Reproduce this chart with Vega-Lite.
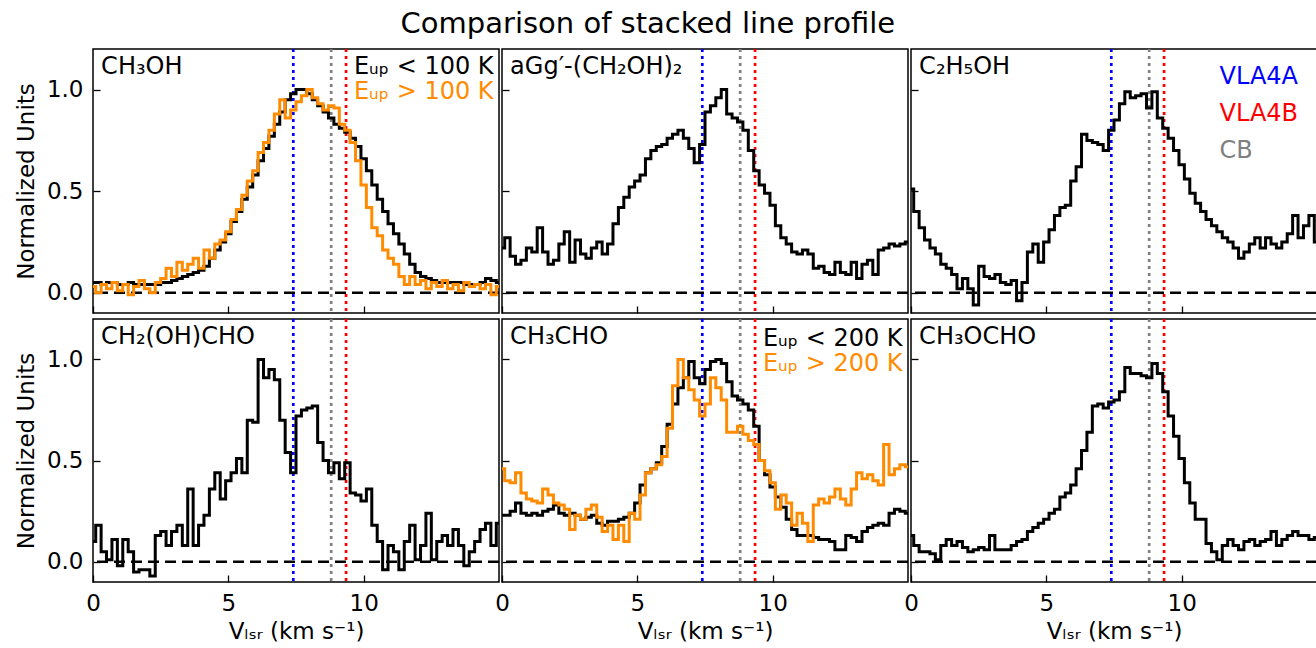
{
"$schema":"https://vega.github.io/schema/vega-lite/v6.json",
"padding":{"left":14,"top":9,"right":0,"bottom":0},
"spacing":0,
"config":{"font":"DejaVu Sans","view":{"stroke":"black","strokeWidth":1.5},
"axis":{"grid":false,"domain":false,"tickColor":"black","tickSize":-7,"tickWidth":1.3,"labelPadding":17,"labelFontSize":23,"labelColor":"black","labelFont":"DejaVu Sans","titleFont":"DejaVu Sans","titleFontSize":23,"titleFontWeight":"normal","titleColor":"black","titlePadding":8,"labelFlush":false},
"axisBottom":{"titleFontSize":23,"titlePadding":5},
"scale":{"nice":false},
"concat":{"spacing":3},"text":{"font":"DejaVu Sans"}},
"title":{"text":"Comparison of stacked line profile","fontSize":29,"fontWeight":"normal","font":"DejaVu Sans","color":"black","anchor":"middle","offset":8,"dx":-19},
"datasets":{
"vlines":[{"x":7.4,"c":"VLA4A"},{"x":8.8,"c":"CB"},{"x":9.35,"c":"VLA4B"}],
"s1":[{"x":0,"y":0.05},{"x":0.2,"y":0.05},{"x":0.4,"y":0.04},{"x":0.6,"y":0.05},{"x":0.8,"y":0.05},{"x":1,"y":0.04},{"x":1.2,"y":0.04},{"x":1.4,"y":0.05},{"x":1.6,"y":0.04},{"x":1.8,"y":0.04},{"x":2,"y":0.04},{"x":2.2,"y":0.04},{"x":2.4,"y":0.04},{"x":2.6,"y":0.05},{"x":2.8,"y":0.05},{"x":3,"y":0.06},{"x":3.2,"y":0.07},{"x":3.4,"y":0.08},{"x":3.6,"y":0.09},{"x":3.8,"y":0.1},{"x":4,"y":0.11},{"x":4.2,"y":0.13},{"x":4.4,"y":0.17},{"x":4.6,"y":0.21},{"x":4.8,"y":0.25},{"x":5,"y":0.29},{"x":5.2,"y":0.35},{"x":5.4,"y":0.4},{"x":5.6,"y":0.46},{"x":5.8,"y":0.52},{"x":6,"y":0.58},{"x":6.2,"y":0.65},{"x":6.4,"y":0.71},{"x":6.6,"y":0.77},{"x":6.8,"y":0.83},{"x":7,"y":0.89},{"x":7.2,"y":0.95},{"x":7.4,"y":0.98},{"x":7.6,"y":1},{"x":7.8,"y":1},{"x":8,"y":0.98},{"x":8.2,"y":0.95},{"x":8.4,"y":0.92},{"x":8.6,"y":0.89},{"x":8.8,"y":0.86},{"x":9,"y":0.83},{"x":9.2,"y":0.81},{"x":9.4,"y":0.79},{"x":9.6,"y":0.76},{"x":9.8,"y":0.72},{"x":10,"y":0.66},{"x":10.2,"y":0.6},{"x":10.4,"y":0.53},{"x":10.6,"y":0.46},{"x":10.8,"y":0.4},{"x":11,"y":0.34},{"x":11.2,"y":0.29},{"x":11.4,"y":0.24},{"x":11.6,"y":0.19},{"x":11.8,"y":0.14},{"x":12,"y":0.1},{"x":12.2,"y":0.08},{"x":12.4,"y":0.07},{"x":12.6,"y":0.06},{"x":12.8,"y":0.05},{"x":13,"y":0.05},{"x":13.2,"y":0.05},{"x":13.4,"y":0.05},{"x":13.6,"y":0.05},{"x":13.8,"y":0.04},{"x":14,"y":0.04},{"x":14.2,"y":0.04},{"x":14.4,"y":0.05},{"x":14.6,"y":0.07},{"x":14.8,"y":0.06},{"x":15,"y":0.05}],
"s2":[{"x":0,"y":0.03},{"x":0.2,"y":0},{"x":0.4,"y":0.04},{"x":0.6,"y":0.02},{"x":0.8,"y":0.05},{"x":1,"y":0.01},{"x":1.2,"y":0.04},{"x":1.4,"y":-0.01},{"x":1.6,"y":0.03},{"x":1.8,"y":0.06},{"x":2,"y":0.02},{"x":2.2,"y":0},{"x":2.4,"y":0.05},{"x":2.6,"y":0.07},{"x":2.8,"y":0.12},{"x":3,"y":0.08},{"x":3.2,"y":0.15},{"x":3.4,"y":0.11},{"x":3.6,"y":0.14},{"x":3.8,"y":0.17},{"x":4,"y":0.12},{"x":4.2,"y":0.21},{"x":4.4,"y":0.17},{"x":4.6,"y":0.24},{"x":4.8,"y":0.26},{"x":5,"y":0.3},{"x":5.2,"y":0.36},{"x":5.4,"y":0.41},{"x":5.6,"y":0.48},{"x":5.8,"y":0.55},{"x":6,"y":0.6},{"x":6.2,"y":0.69},{"x":6.4,"y":0.74},{"x":6.6,"y":0.8},{"x":6.8,"y":0.88},{"x":7,"y":0.95},{"x":7.2,"y":0.86},{"x":7.4,"y":0.9},{"x":7.6,"y":0.94},{"x":7.8,"y":0.97},{"x":8,"y":1},{"x":8.2,"y":0.96},{"x":8.4,"y":0.93},{"x":8.6,"y":0.9},{"x":8.8,"y":0.92},{"x":9,"y":0.91},{"x":9.2,"y":0.83},{"x":9.4,"y":0.8},{"x":9.6,"y":0.74},{"x":9.8,"y":0.65},{"x":10,"y":0.53},{"x":10.2,"y":0.42},{"x":10.4,"y":0.32},{"x":10.6,"y":0.28},{"x":10.8,"y":0.21},{"x":11,"y":0.17},{"x":11.2,"y":0.14},{"x":11.4,"y":0.08},{"x":11.6,"y":0.04},{"x":11.8,"y":0.08},{"x":12,"y":0.04},{"x":12.2,"y":0.06},{"x":12.4,"y":0.02},{"x":12.6,"y":0.05},{"x":12.8,"y":0.03},{"x":13,"y":0.06},{"x":13.2,"y":0.02},{"x":13.4,"y":0.04},{"x":13.6,"y":0.01},{"x":13.8,"y":0.05},{"x":14,"y":0.03},{"x":14.2,"y":0.04},{"x":14.4,"y":0.02},{"x":14.6,"y":0.04},{"x":14.8,"y":-0.01},{"x":15,"y":0.03}],
"s3":[{"x":0,"y":0.22},{"x":0.2,"y":0.27},{"x":0.4,"y":0.18},{"x":0.6,"y":0.14},{"x":0.8,"y":0.16},{"x":1,"y":0.22},{"x":1.2,"y":0.2},{"x":1.4,"y":0.32},{"x":1.6,"y":0.2},{"x":1.8,"y":0.14},{"x":2,"y":0.16},{"x":2.2,"y":0.24},{"x":2.4,"y":0.3},{"x":2.6,"y":0.15},{"x":2.8,"y":0.26},{"x":3,"y":0.19},{"x":3.2,"y":0.17},{"x":3.4,"y":0.22},{"x":3.6,"y":0.25},{"x":3.8,"y":0.19},{"x":4,"y":0.24},{"x":4.2,"y":0.34},{"x":4.4,"y":0.42},{"x":4.6,"y":0.47},{"x":4.8,"y":0.52},{"x":5,"y":0.55},{"x":5.2,"y":0.58},{"x":5.4,"y":0.66},{"x":5.6,"y":0.7},{"x":5.8,"y":0.72},{"x":6,"y":0.73},{"x":6.2,"y":0.76},{"x":6.4,"y":0.78},{"x":6.6,"y":0.8},{"x":6.8,"y":0.76},{"x":7,"y":0.71},{"x":7.2,"y":0.64},{"x":7.4,"y":0.73},{"x":7.6,"y":0.89},{"x":7.8,"y":0.92},{"x":8,"y":0.96},{"x":8.2,"y":1},{"x":8.4,"y":0.88},{"x":8.6,"y":0.86},{"x":8.8,"y":0.84},{"x":9,"y":0.8},{"x":9.2,"y":0.7},{"x":9.4,"y":0.6},{"x":9.6,"y":0.53},{"x":9.8,"y":0.49},{"x":10,"y":0.43},{"x":10.2,"y":0.33},{"x":10.4,"y":0.27},{"x":10.6,"y":0.24},{"x":10.8,"y":0.2},{"x":11,"y":0.19},{"x":11.2,"y":0.21},{"x":11.4,"y":0.19},{"x":11.6,"y":0.12},{"x":11.8,"y":0.13},{"x":12,"y":0.1},{"x":12.2,"y":0.09},{"x":12.4,"y":0.15},{"x":12.6,"y":0.1},{"x":12.8,"y":0.09},{"x":13,"y":0.15},{"x":13.2,"y":0.07},{"x":13.4,"y":0.14},{"x":13.6,"y":0.16},{"x":13.8,"y":0.09},{"x":14,"y":0.21},{"x":14.2,"y":0.22},{"x":14.4,"y":0.24},{"x":14.6,"y":0.23},{"x":14.8,"y":0.24},{"x":15,"y":0.25}],
"s4":[{"x":0,"y":0.51},{"x":0.2,"y":0.4},{"x":0.4,"y":0.32},{"x":0.6,"y":0.26},{"x":0.8,"y":0.22},{"x":1,"y":0.19},{"x":1.2,"y":0.14},{"x":1.4,"y":0.12},{"x":1.6,"y":0.09},{"x":1.8,"y":0.02},{"x":2,"y":0.07},{"x":2.2,"y":0.02},{"x":2.4,"y":-0.06},{"x":2.6,"y":0.13},{"x":2.8,"y":0.08},{"x":3,"y":0.07},{"x":3.2,"y":0.09},{"x":3.4,"y":0.05},{"x":3.6,"y":0.04},{"x":3.8,"y":0.06},{"x":4,"y":-0.04},{"x":4.2,"y":0.05},{"x":4.4,"y":0.2},{"x":4.6,"y":0.24},{"x":4.8,"y":0.15},{"x":5,"y":0.25},{"x":5.2,"y":0.31},{"x":5.4,"y":0.38},{"x":5.6,"y":0.42},{"x":5.8,"y":0.43},{"x":6,"y":0.55},{"x":6.2,"y":0.62},{"x":6.4,"y":0.78},{"x":6.6,"y":0.75},{"x":6.8,"y":0.74},{"x":7,"y":0.73},{"x":7.2,"y":0.7},{"x":7.4,"y":0.8},{"x":7.6,"y":0.85},{"x":7.8,"y":0.93},{"x":8,"y":0.99},{"x":8.2,"y":0.96},{"x":8.4,"y":0.97},{"x":8.6,"y":0.98},{"x":8.8,"y":0.91},{"x":9,"y":0.99},{"x":9.2,"y":0.86},{"x":9.4,"y":0.81},{"x":9.6,"y":0.76},{"x":9.8,"y":0.7},{"x":10,"y":0.63},{"x":10.2,"y":0.56},{"x":10.4,"y":0.49},{"x":10.6,"y":0.44},{"x":10.8,"y":0.4},{"x":11,"y":0.36},{"x":11.2,"y":0.33},{"x":11.4,"y":0.3},{"x":11.6,"y":0.27},{"x":11.8,"y":0.25},{"x":12,"y":0.22},{"x":12.2,"y":0.17},{"x":12.4,"y":0.2},{"x":12.6,"y":0.24},{"x":12.8,"y":0.27},{"x":13,"y":0.22},{"x":13.2,"y":0.27},{"x":13.4,"y":0.24},{"x":13.6,"y":0.22},{"x":13.8,"y":0.25},{"x":14,"y":0.29},{"x":14.2,"y":0.38},{"x":14.4,"y":0.27},{"x":14.6,"y":0.33},{"x":14.8,"y":0.38},{"x":15,"y":0.25}],
"s5":[{"x":0,"y":0.1},{"x":0.2,"y":0.18},{"x":0.4,"y":0.05},{"x":0.6,"y":0.01},{"x":0.8,"y":0.11},{"x":1,"y":-0.02},{"x":1.2,"y":0.11},{"x":1.4,"y":0.05},{"x":1.6,"y":-0.05},{"x":1.8,"y":-0.04},{"x":2,"y":-0.04},{"x":2.2,"y":-0.07},{"x":2.4,"y":0.13},{"x":2.6,"y":0.15},{"x":2.8,"y":0.08},{"x":3,"y":0.15},{"x":3.2,"y":0.18},{"x":3.4,"y":0.08},{"x":3.6,"y":0.36},{"x":3.8,"y":0.08},{"x":4,"y":0.18},{"x":4.2,"y":0.23},{"x":4.4,"y":0.36},{"x":4.6,"y":0.44},{"x":4.8,"y":0.31},{"x":5,"y":0.4},{"x":5.2,"y":0.44},{"x":5.4,"y":0.51},{"x":5.6,"y":0.44},{"x":5.8,"y":0.7},{"x":6,"y":0.69},{"x":6.2,"y":1},{"x":6.4,"y":0.91},{"x":6.6,"y":0.95},{"x":6.8,"y":0.9},{"x":7,"y":0.7},{"x":7.2,"y":0.54},{"x":7.4,"y":0.44},{"x":7.6,"y":0.72},{"x":7.8,"y":0.75},{"x":8,"y":0.76},{"x":8.2,"y":0.77},{"x":8.4,"y":0.59},{"x":8.6,"y":0.5},{"x":8.8,"y":0.44},{"x":9,"y":0.49},{"x":9.2,"y":0.41},{"x":9.4,"y":0.49},{"x":9.6,"y":0.34},{"x":9.8,"y":0.33},{"x":10,"y":0.3},{"x":10.2,"y":0.36},{"x":10.4,"y":0.18},{"x":10.6,"y":0.1},{"x":10.8,"y":-0.04},{"x":11,"y":0.08},{"x":11.2,"y":0.05},{"x":11.4,"y":-0.04},{"x":11.6,"y":0.1},{"x":11.8,"y":0.18},{"x":12,"y":0.01},{"x":12.2,"y":0.08},{"x":12.4,"y":0.24},{"x":12.6,"y":0.01},{"x":12.8,"y":0.1},{"x":13,"y":0.13},{"x":13.2,"y":0.08},{"x":13.4,"y":0.16},{"x":13.6,"y":0.08},{"x":13.8,"y":-0.02},{"x":14,"y":0.05},{"x":14.2,"y":0.1},{"x":14.4,"y":0.16},{"x":14.6,"y":0.19},{"x":14.8,"y":0.08},{"x":15,"y":0.19}],
"s6":[{"x":0,"y":0.23},{"x":0.2,"y":0.23},{"x":0.4,"y":0.25},{"x":0.6,"y":0.29},{"x":0.8,"y":0.24},{"x":1,"y":0.23},{"x":1.2,"y":0.24},{"x":1.4,"y":0.23},{"x":1.6,"y":0.25},{"x":1.8,"y":0.26},{"x":2,"y":0.28},{"x":2.2,"y":0.24},{"x":2.4,"y":0.23},{"x":2.6,"y":0.24},{"x":2.8,"y":0.23},{"x":3,"y":0.21},{"x":3.2,"y":0.22},{"x":3.4,"y":0.23},{"x":3.6,"y":0.19},{"x":3.8,"y":0.18},{"x":4,"y":0.2},{"x":4.2,"y":0.2},{"x":4.4,"y":0.21},{"x":4.6,"y":0.22},{"x":4.8,"y":0.24},{"x":5,"y":0.29},{"x":5.2,"y":0.38},{"x":5.4,"y":0.44},{"x":5.6,"y":0.46},{"x":5.8,"y":0.49},{"x":6,"y":0.57},{"x":6.2,"y":0.68},{"x":6.4,"y":0.78},{"x":6.6,"y":0.86},{"x":6.8,"y":0.91},{"x":7,"y":0.99},{"x":7.2,"y":0.91},{"x":7.4,"y":0.88},{"x":7.6,"y":0.95},{"x":7.8,"y":0.99},{"x":8,"y":1},{"x":8.2,"y":0.98},{"x":8.4,"y":0.89},{"x":8.6,"y":0.82},{"x":8.8,"y":0.8},{"x":9,"y":0.78},{"x":9.2,"y":0.75},{"x":9.4,"y":0.67},{"x":9.6,"y":0.5},{"x":9.8,"y":0.43},{"x":10,"y":0.37},{"x":10.2,"y":0.32},{"x":10.4,"y":0.27},{"x":10.6,"y":0.21},{"x":10.8,"y":0.16},{"x":11,"y":0.13},{"x":11.2,"y":0.13},{"x":11.4,"y":0.13},{"x":11.6,"y":0.12},{"x":11.8,"y":0.11},{"x":12,"y":0.11},{"x":12.2,"y":0.1},{"x":12.4,"y":0.06},{"x":12.6,"y":0.06},{"x":12.8,"y":0.13},{"x":13,"y":0.12},{"x":13.2,"y":0.1},{"x":13.4,"y":0.15},{"x":13.6,"y":0.17},{"x":13.8,"y":0.18},{"x":14,"y":0.19},{"x":14.2,"y":0.18},{"x":14.4,"y":0.24},{"x":14.6,"y":0.26},{"x":14.8,"y":0.25},{"x":15,"y":0.24}],
"s7":[{"x":0,"y":0.46},{"x":0.2,"y":0.4},{"x":0.4,"y":0.39},{"x":0.6,"y":0.44},{"x":0.8,"y":0.34},{"x":1,"y":0.31},{"x":1.2,"y":0.3},{"x":1.4,"y":0.29},{"x":1.6,"y":0.36},{"x":1.8,"y":0.33},{"x":2,"y":0.29},{"x":2.2,"y":0.28},{"x":2.4,"y":0.26},{"x":2.6,"y":0.16},{"x":2.8,"y":0.23},{"x":3,"y":0.21},{"x":3.2,"y":0.26},{"x":3.4,"y":0.28},{"x":3.6,"y":0.22},{"x":3.8,"y":0.15},{"x":4,"y":0.18},{"x":4.2,"y":0.11},{"x":4.4,"y":0.18},{"x":4.6,"y":0.1},{"x":4.8,"y":0.24},{"x":5,"y":0.21},{"x":5.2,"y":0.33},{"x":5.4,"y":0.44},{"x":5.6,"y":0.46},{"x":5.8,"y":0.48},{"x":6,"y":0.52},{"x":6.2,"y":0.66},{"x":6.4,"y":0.87},{"x":6.6,"y":1},{"x":6.8,"y":0.91},{"x":7,"y":0.85},{"x":7.2,"y":0.8},{"x":7.4,"y":0.72},{"x":7.6,"y":0.78},{"x":7.8,"y":0.91},{"x":8,"y":0.86},{"x":8.2,"y":0.8},{"x":8.4,"y":0.64},{"x":8.6,"y":0.64},{"x":8.8,"y":0.67},{"x":9,"y":0.63},{"x":9.2,"y":0.6},{"x":9.4,"y":0.58},{"x":9.6,"y":0.5},{"x":9.8,"y":0.45},{"x":10,"y":0.39},{"x":10.2,"y":0.26},{"x":10.4,"y":0.33},{"x":10.6,"y":0.29},{"x":10.8,"y":0.18},{"x":11,"y":0.24},{"x":11.2,"y":0.19},{"x":11.4,"y":0.1},{"x":11.6,"y":0.28},{"x":11.8,"y":0.31},{"x":12,"y":0.29},{"x":12.2,"y":0.32},{"x":12.4,"y":0.36},{"x":12.6,"y":0.31},{"x":12.8,"y":0.28},{"x":13,"y":0.36},{"x":13.2,"y":0.44},{"x":13.4,"y":0.41},{"x":13.6,"y":0.43},{"x":13.8,"y":0.4},{"x":14,"y":0.38},{"x":14.2,"y":0.58},{"x":14.4,"y":0.43},{"x":14.6,"y":0.46},{"x":14.8,"y":0.48},{"x":15,"y":0.47}],
"s8":[{"x":0,"y":0.13},{"x":0.2,"y":0.08},{"x":0.4,"y":0.05},{"x":0.6,"y":0.05},{"x":0.8,"y":0.04},{"x":1,"y":0.01},{"x":1.2,"y":0.08},{"x":1.4,"y":0.11},{"x":1.6,"y":0.08},{"x":1.8,"y":0.1},{"x":2,"y":0.07},{"x":2.2,"y":0.05},{"x":2.4,"y":0.06},{"x":2.6,"y":0.07},{"x":2.8,"y":0.06},{"x":3,"y":0.13},{"x":3.2,"y":0.06},{"x":3.4,"y":0.06},{"x":3.6,"y":0.06},{"x":3.8,"y":0.08},{"x":4,"y":0.1},{"x":4.2,"y":0.11},{"x":4.4,"y":0.15},{"x":4.6,"y":0.17},{"x":4.8,"y":0.19},{"x":5,"y":0.21},{"x":5.2,"y":0.24},{"x":5.4,"y":0.26},{"x":5.6,"y":0.32},{"x":5.8,"y":0.34},{"x":6,"y":0.38},{"x":6.2,"y":0.46},{"x":6.4,"y":0.55},{"x":6.6,"y":0.64},{"x":6.8,"y":0.77},{"x":7,"y":0.78},{"x":7.2,"y":0.76},{"x":7.4,"y":0.79},{"x":7.6,"y":0.8},{"x":7.8,"y":0.84},{"x":8,"y":0.96},{"x":8.2,"y":0.93},{"x":8.4,"y":0.93},{"x":8.6,"y":0.92},{"x":8.8,"y":0.91},{"x":9,"y":0.98},{"x":9.2,"y":0.93},{"x":9.4,"y":0.84},{"x":9.6,"y":0.72},{"x":9.8,"y":0.62},{"x":10,"y":0.51},{"x":10.2,"y":0.39},{"x":10.4,"y":0.29},{"x":10.6,"y":0.21},{"x":10.8,"y":0.21},{"x":11,"y":0.09},{"x":11.2,"y":0.05},{"x":11.4,"y":0.01},{"x":11.6,"y":0.08},{"x":11.8,"y":0.11},{"x":12,"y":0.08},{"x":12.2,"y":0.06},{"x":12.4,"y":0.1},{"x":12.6,"y":0.11},{"x":12.8,"y":0.08},{"x":13,"y":0.1},{"x":13.2,"y":0.11},{"x":13.4,"y":0.15},{"x":13.6,"y":0.08},{"x":13.8,"y":0.11},{"x":14,"y":0.13},{"x":14.2,"y":0.15},{"x":14.4,"y":0.13},{"x":14.6,"y":0.13},{"x":14.8,"y":0.11},{"x":15,"y":0.12}]
},
"vconcat":[
{"hconcat":[
{"width":406,"height":264,"layer":[
{"data":{"name":"vlines"},"mark":{"type":"rule","strokeDash":[3,4],"strokeWidth":2.7},"encoding":{"x":{"field":"x","type":"quantitative","scale":{"domain":[0,15],"nice":false},"axis":{"values":[0,5,10],"labels":false,"title":null}},"color":{"field":"c","type":"nominal","scale":{"domain":["VLA4A","CB","VLA4B"],"range":["#0000ff","#808080","#ff0000"]},"legend":null}}},
{"data":{"values":[{}]},"mark":{"type":"rule","strokeDash":[11,6],"strokeWidth":2.5,"color":"black"},"encoding":{"y":{"datum":0,"type":"quantitative","scale":{"domain":[-0.1,1.2],"nice":false},"axis":{"values":[0,0.5,1],"format":".1f","title":"Normalized Units"}}}},
{"data":{"name":"s1"},"mark":{"type":"line","interpolate":"step","strokeWidth":3,"color":"black","clip":true},"encoding":{"x":{"field":"x","type":"quantitative"},"y":{"field":"y","type":"quantitative"}}},
{"data":{"name":"s2"},"mark":{"type":"line","interpolate":"step","strokeWidth":3,"color":"#ff8c00","clip":true},"encoding":{"x":{"field":"x","type":"quantitative"},"y":{"field":"y","type":"quantitative"}}},
{"data":{"values":[{}]},"mark":{"type":"text","text":"CH₃OH","align":"left","baseline":"middle","fontSize":24,"color":"black"},"encoding":{"x":{"datum":0.3,"type":"quantitative"},"y":{"datum":1.11,"type":"quantitative"}}},
{"data":{"values":[{}]},"mark":{"type":"text","text":"Eᵤₚ < 100 K","align":"right","baseline":"middle","fontSize":24,"color":"black"},"encoding":{"x":{"datum":14.8,"type":"quantitative"},"y":{"datum":1.11,"type":"quantitative"}}},
{"data":{"values":[{}]},"mark":{"type":"text","text":"Eᵤₚ > 100 K","align":"right","baseline":"middle","fontSize":24,"color":"#ff8c00"},"encoding":{"x":{"datum":14.8,"type":"quantitative"},"y":{"datum":0.987,"type":"quantitative"}}}
]},
{"width":406,"height":264,"layer":[
{"data":{"name":"vlines"},"mark":{"type":"rule","strokeDash":[3,4],"strokeWidth":2.7},"encoding":{"x":{"field":"x","type":"quantitative","scale":{"domain":[0,15],"nice":false},"axis":{"values":[0,5,10],"labels":false,"title":null}},"color":{"field":"c","type":"nominal","scale":{"domain":["VLA4A","CB","VLA4B"],"range":["#0000ff","#808080","#ff0000"]},"legend":null}}},
{"data":{"values":[{}]},"mark":{"type":"rule","strokeDash":[11,6],"strokeWidth":2.5,"color":"black"},"encoding":{"y":{"datum":0,"type":"quantitative","scale":{"domain":[-0.1,1.2],"nice":false},"axis":{"values":[0,0.5,1],"labels":false,"title":null}}}},
{"data":{"name":"s3"},"mark":{"type":"line","interpolate":"step","strokeWidth":3,"color":"black","clip":true},"encoding":{"x":{"field":"x","type":"quantitative"},"y":{"field":"y","type":"quantitative"}}},
{"data":{"values":[{}]},"mark":{"type":"text","text":"aGg′-(CH₂OH)₂","align":"left","baseline":"middle","fontSize":24,"color":"black"},"encoding":{"x":{"datum":0.3,"type":"quantitative"},"y":{"datum":1.11,"type":"quantitative"}}}
]},
{"width":406,"height":264,"layer":[
{"data":{"name":"vlines"},"mark":{"type":"rule","strokeDash":[3,4],"strokeWidth":2.7},"encoding":{"x":{"field":"x","type":"quantitative","scale":{"domain":[0,15],"nice":false},"axis":{"values":[0,5,10],"labels":false,"title":null}},"color":{"field":"c","type":"nominal","scale":{"domain":["VLA4A","CB","VLA4B"],"range":["#0000ff","#808080","#ff0000"]},"legend":null}}},
{"data":{"values":[{}]},"mark":{"type":"rule","strokeDash":[11,6],"strokeWidth":2.5,"color":"black"},"encoding":{"y":{"datum":0,"type":"quantitative","scale":{"domain":[-0.1,1.2],"nice":false},"axis":{"values":[0,0.5,1],"labels":false,"title":null}}}},
{"data":{"name":"s4"},"mark":{"type":"line","interpolate":"step","strokeWidth":3,"color":"black","clip":true},"encoding":{"x":{"field":"x","type":"quantitative"},"y":{"field":"y","type":"quantitative"}}},
{"data":{"values":[{}]},"mark":{"type":"text","text":"C₂H₅OH","align":"left","baseline":"middle","fontSize":24,"color":"black"},"encoding":{"x":{"datum":0.3,"type":"quantitative"},"y":{"datum":1.11,"type":"quantitative"}}},
{"data":{"values":[{}]},"mark":{"type":"text","text":"VLA4A","align":"left","baseline":"middle","fontSize":24,"color":"#0000ff"},"encoding":{"x":{"datum":11.4,"type":"quantitative"},"y":{"datum":1.06,"type":"quantitative"}}},
{"data":{"values":[{}]},"mark":{"type":"text","text":"VLA4B","align":"left","baseline":"middle","fontSize":24,"color":"#ff0000"},"encoding":{"x":{"datum":11.4,"type":"quantitative"},"y":{"datum":0.878,"type":"quantitative"}}},
{"data":{"values":[{}]},"mark":{"type":"text","text":"CB","align":"left","baseline":"middle","fontSize":24,"color":"#808080"},"encoding":{"x":{"datum":11.4,"type":"quantitative"},"y":{"datum":0.7,"type":"quantitative"}}}
]}
],"bounds":"flush","spacing":3},
{"hconcat":[
{"width":406,"height":263,"layer":[
{"data":{"name":"vlines"},"mark":{"type":"rule","strokeDash":[3,4],"strokeWidth":2.7},"encoding":{"x":{"field":"x","type":"quantitative","scale":{"domain":[0,15],"nice":false},"axis":{"values":[0,5,10],"title":"Vₗₛᵣ (km s⁻¹)"}},"color":{"field":"c","type":"nominal","scale":{"domain":["VLA4A","CB","VLA4B"],"range":["#0000ff","#808080","#ff0000"]},"legend":null}}},
{"data":{"values":[{}]},"mark":{"type":"rule","strokeDash":[11,6],"strokeWidth":2.5,"color":"black"},"encoding":{"y":{"datum":0,"type":"quantitative","scale":{"domain":[-0.1,1.2],"nice":false},"axis":{"values":[0,0.5,1],"format":".1f","title":"Normalized Units"}}}},
{"data":{"name":"s5"},"mark":{"type":"line","interpolate":"step","strokeWidth":3,"color":"black","clip":true},"encoding":{"x":{"field":"x","type":"quantitative"},"y":{"field":"y","type":"quantitative"}}},
{"data":{"values":[{}]},"mark":{"type":"text","text":"CH₂(OH)CHO","align":"left","baseline":"middle","fontSize":24,"color":"black"},"encoding":{"x":{"datum":0.3,"type":"quantitative"},"y":{"datum":1.11,"type":"quantitative"}}}
]},
{"width":406,"height":263,"layer":[
{"data":{"name":"vlines"},"mark":{"type":"rule","strokeDash":[3,4],"strokeWidth":2.7},"encoding":{"x":{"field":"x","type":"quantitative","scale":{"domain":[0,15],"nice":false},"axis":{"values":[0,5,10],"title":"Vₗₛᵣ (km s⁻¹)"}},"color":{"field":"c","type":"nominal","scale":{"domain":["VLA4A","CB","VLA4B"],"range":["#0000ff","#808080","#ff0000"]},"legend":null}}},
{"data":{"values":[{}]},"mark":{"type":"rule","strokeDash":[11,6],"strokeWidth":2.5,"color":"black"},"encoding":{"y":{"datum":0,"type":"quantitative","scale":{"domain":[-0.1,1.2],"nice":false},"axis":{"values":[0,0.5,1],"labels":false,"title":null}}}},
{"data":{"name":"s6"},"mark":{"type":"line","interpolate":"step","strokeWidth":3,"color":"black","clip":true},"encoding":{"x":{"field":"x","type":"quantitative"},"y":{"field":"y","type":"quantitative"}}},
{"data":{"name":"s7"},"mark":{"type":"line","interpolate":"step","strokeWidth":3,"color":"#ff8c00","clip":true},"encoding":{"x":{"field":"x","type":"quantitative"},"y":{"field":"y","type":"quantitative"}}},
{"data":{"values":[{}]},"mark":{"type":"text","text":"CH₃CHO","align":"left","baseline":"middle","fontSize":24,"color":"black"},"encoding":{"x":{"datum":0.3,"type":"quantitative"},"y":{"datum":1.11,"type":"quantitative"}}},
{"data":{"values":[{}]},"mark":{"type":"text","text":"Eᵤₚ < 200 K","align":"right","baseline":"middle","fontSize":24,"color":"black"},"encoding":{"x":{"datum":14.8,"type":"quantitative"},"y":{"datum":1.1,"type":"quantitative"}}},
{"data":{"values":[{}]},"mark":{"type":"text","text":"Eᵤₚ > 200 K","align":"right","baseline":"middle","fontSize":24,"color":"#ff8c00"},"encoding":{"x":{"datum":14.8,"type":"quantitative"},"y":{"datum":0.98,"type":"quantitative"}}}
]},
{"width":406,"height":263,"layer":[
{"data":{"name":"vlines"},"mark":{"type":"rule","strokeDash":[3,4],"strokeWidth":2.7},"encoding":{"x":{"field":"x","type":"quantitative","scale":{"domain":[0,15],"nice":false},"axis":{"values":[0,5,10],"title":"Vₗₛᵣ (km s⁻¹)"}},"color":{"field":"c","type":"nominal","scale":{"domain":["VLA4A","CB","VLA4B"],"range":["#0000ff","#808080","#ff0000"]},"legend":null}}},
{"data":{"values":[{}]},"mark":{"type":"rule","strokeDash":[11,6],"strokeWidth":2.5,"color":"black"},"encoding":{"y":{"datum":0,"type":"quantitative","scale":{"domain":[-0.1,1.2],"nice":false},"axis":{"values":[0,0.5,1],"labels":false,"title":null}}}},
{"data":{"name":"s8"},"mark":{"type":"line","interpolate":"step","strokeWidth":3,"color":"black","clip":true},"encoding":{"x":{"field":"x","type":"quantitative"},"y":{"field":"y","type":"quantitative"}}},
{"data":{"values":[{}]},"mark":{"type":"text","text":"CH₃OCHO","align":"left","baseline":"middle","fontSize":24,"color":"black"},"encoding":{"x":{"datum":0.3,"type":"quantitative"},"y":{"datum":1.11,"type":"quantitative"}}}
]}
],"bounds":"flush","spacing":3}
]
}
